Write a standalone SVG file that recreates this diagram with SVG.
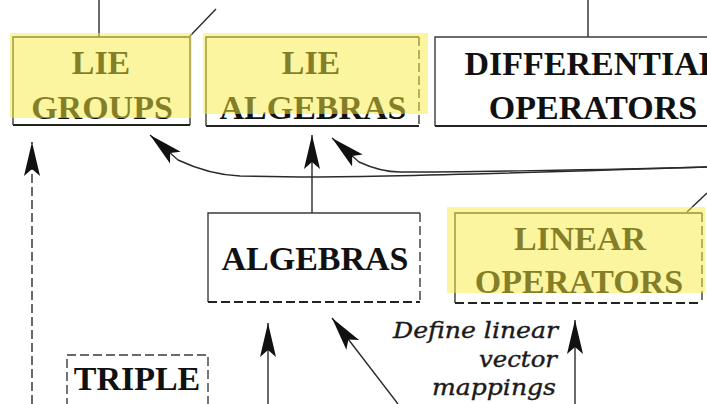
<svg xmlns="http://www.w3.org/2000/svg" width="707" height="404" viewBox="0 0 707 404">
  <style>
    .edge { stroke: #3a3a3a; stroke-width: 1.4; fill: none; }
    .bot { stroke: #222; stroke-width: 2.2; }
    .dash { stroke-dasharray: 9 4; }
    .conn { stroke: #2a2a2a; stroke-width: 1.4; fill: none; }
    .label { font-family: "Liberation Serif", "Times New Roman", serif; font-weight: bold; font-size: 34px; text-anchor: middle; fill: #111; }
    .note { font-family: "DejaVu Serif", "Liberation Serif", serif; font-style: italic; font-size: 23px; text-anchor: end; fill: #1a1a1a; stroke: #1a1a1a; stroke-width: 0.4; }
    .hl { fill: rgb(246,236,62); opacity: 0.5; }
  </style>
  <defs>
    <marker id="ah" markerUnits="userSpaceOnUse" markerWidth="36" markerHeight="18" viewBox="0 0 36 18" refX="34" refY="9" orient="auto">
      <path d="M0,1 L34,9 L0,17 L7,9 Z" fill="#111"/>
    </marker>
  </defs>
  <rect width="707" height="404" fill="#fff"/>

  <g id="connectors">
    <!-- lines leaving the top of the view -->
    <path class="conn" d="M99,0 L99,37"/>
    <path class="conn" d="M190,36 L216,9"/>
    <path class="conn" d="M588,0 L588,37"/>
    <path class="conn" d="M687,212 L707,193"/>
    <!-- long connector from the right, splitting to both Lie boxes -->
    <path class="conn" d="M707,167 C600,170 420,177 300,177 L240,176 C215,175 195,168 178,160 L150,135" marker-end="url(#ah)"/>
    <path class="conn" d="M707,167 C600,170 450,172 400,172 C385,172 372,168 359,162 L332,138" marker-end="url(#ah)"/>
    <!-- algebras up to lie algebras -->
    <path class="conn" d="M312,213 L312,135" marker-end="url(#ah)"/>
    <!-- left rising connector -->
    <path class="conn dash" d="M32,404 L32,142" stroke="#555" marker-end="url(#ah)"/>
    <!-- arrows from below -->
    <path class="conn" d="M268,404 L268,323" marker-end="url(#ah)"/>
    <path class="conn" d="M398,404 L332,318" marker-end="url(#ah)"/>
    <path class="conn" d="M575,404 L575,320" marker-end="url(#ah)"/>
  </g>

  <g id="lie-groups">
    <path class="edge" d="M13,125 L13,37 L190,37 L190,125"/>
    <path class="edge bot" d="M13,125 L190,125"/>
    <text class="label" x="101" y="74">LIE</text>
    <text class="label" x="102" y="119">GROUPS</text>
    <rect class="hl" x="10" y="33" width="182" height="85"/>
  </g>

  <g id="lie-algebras">
    <path class="edge" d="M206,126 L206,37 L419,37"/>
    <path class="edge dash" d="M419,37 L419,126"/>
    <path class="edge bot" d="M206,126 L419,126"/>
    <text class="label" x="311" y="74">LIE</text>
    <text class="label" x="313" y="119">ALGEBRAS</text>
    <rect class="hl" x="203" y="33" width="225" height="81"/>
  </g>

  <g id="differential-operators">
    <path class="edge" d="M751,37 L435,37 L435,126"/>
    <path class="edge bot" d="M435,126 L751,126"/>
    <text class="label" x="593" y="75">DIFFERENTIAL</text>
    <text class="label" x="593" y="119">OPERATORS</text>
  </g>

  <g id="algebras">
    <path class="edge" d="M208,302 L208,213 L420,213"/>
    <path class="edge dash" d="M420,213 L420,302"/>
    <path class="edge bot dash" d="M208,302 L420,302"/>
    <text class="label" x="315" y="270">ALGEBRAS</text>
  </g>

  <g id="linear-operators">
    <path class="edge" d="M455,303 L455,213 L702,213"/>
    <path class="edge dash" d="M702,213 L702,303"/>
    <path class="edge bot dash" d="M455,303 L702,303"/>
    <text class="label" x="580" y="250">LINEAR</text>
    <text class="label" x="579" y="293">OPERATORS</text>
    <rect class="hl" x="447" y="207" width="258" height="86"/>
  </g>

  <g id="triple">
    <path class="edge dash" d="M67,420 L67,355 L208,355 L208,420"/>
    <text class="label" x="137" y="390">TRIPLE</text>
  </g>

  <g id="note">
    <text class="note" x="558" y="338" textLength="165" lengthAdjust="spacingAndGlyphs">Define linear</text>
    <text class="note" x="557" y="367" textLength="78" lengthAdjust="spacingAndGlyphs">vector</text>
    <text class="note" x="556" y="395" textLength="124" lengthAdjust="spacingAndGlyphs">mappings</text>
  </g>
</svg>
